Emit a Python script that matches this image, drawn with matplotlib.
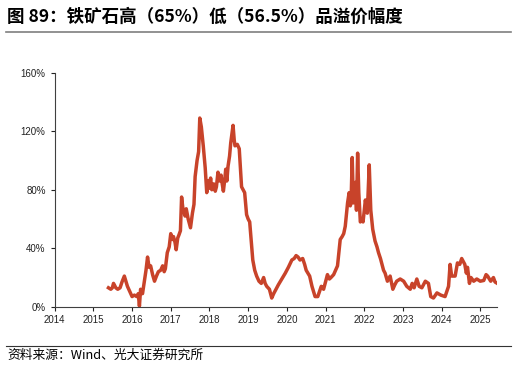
import matplotlib.pyplot as plt
from matplotlib.ticker import FuncFormatter

plt.rcParams["font.family"] = ["Liberation Sans", "Noto Sans CJK SC", "DejaVu Sans"]

LINE_RED = "#C8432A"
GREY = "#7F7F7F"

# premium of 65% vs 56.5% iron ore (decimal year, %)
years = [
    2015.39, 2015.45, 2015.49, 2015.52, 2015.58, 2015.63, 2015.69, 2015.74,
    2015.80, 2015.88, 2015.95, 2016.00, 2016.06, 2016.12, 2016.16, 2016.19,
    2016.22, 2016.27, 2016.31, 2016.36, 2016.40, 2016.44, 2016.48, 2016.53,
    2016.58, 2016.63, 2016.68, 2016.74, 2016.79, 2016.83, 2016.86, 2016.91,
    2016.96, 2017.00, 2017.04, 2017.07, 2017.11, 2017.14, 2017.18, 2017.21,
    2017.25, 2017.28, 2017.31, 2017.33, 2017.37, 2017.40, 2017.45, 2017.51,
    2017.56, 2017.60, 2017.63, 2017.68, 2017.72, 2017.75, 2017.79, 2017.84,
    2017.89, 2017.93, 2017.97, 2018.00, 2018.03, 2018.06, 2018.11, 2018.15,
    2018.18, 2018.22, 2018.26, 2018.30, 2018.33, 2018.36, 2018.40, 2018.42,
    2018.45, 2018.48, 2018.52, 2018.55, 2018.61, 2018.64, 2018.66, 2018.72,
    2018.77, 2018.80, 2018.83, 2018.87, 2018.91, 2018.96, 2019.00, 2019.04,
    2019.08, 2019.12, 2019.17, 2019.22, 2019.28, 2019.34, 2019.40, 2019.44,
    2019.48, 2019.55, 2019.61, 2019.66, 2019.70, 2019.78, 2019.87, 2019.96,
    2020.04, 2020.13, 2020.19, 2020.24, 2020.29, 2020.34, 2020.41, 2020.46,
    2020.50, 2020.59, 2020.65, 2020.73, 2020.80, 2020.85, 2020.89, 2020.95,
    2021.05, 2021.10, 2021.14, 2021.21, 2021.31, 2021.38, 2021.43, 2021.47,
    2021.51, 2021.57, 2021.61, 2021.64, 2021.66, 2021.69, 2021.72, 2021.77,
    2021.80, 2021.83, 2021.86, 2021.90, 2021.94, 2021.97, 2022.03, 2022.08,
    2022.13, 2022.17, 2022.22, 2022.28, 2022.33, 2022.37, 2022.42, 2022.46,
    2022.50, 2022.54, 2022.60, 2022.67, 2022.74, 2022.79, 2022.84, 2022.93,
    2023.02, 2023.10, 2023.19, 2023.24, 2023.29, 2023.36, 2023.42, 2023.49,
    2023.58, 2023.66, 2023.72, 2023.79, 2023.88, 2023.98, 2024.09, 2024.18,
    2024.22, 2024.26, 2024.35, 2024.41, 2024.47, 2024.52, 2024.56, 2024.60,
    2024.64, 2024.67, 2024.72, 2024.76, 2024.83, 2024.91, 2025.00, 2025.09,
    2025.15, 2025.19, 2025.27, 2025.34, 2025.38, 2025.44,
]
premium = [
    13, 12, 13, 16, 13, 12, 13, 17,
    21, 14, 10, 7, 8, 7, 9, 0.5,
    12, 9, 16, 25, 34, 27, 28, 22,
    17.5, 21, 24, 25, 28, 24, 26, 37,
    41, 50, 46, 48, 44, 39, 47, 49,
    52, 75, 68, 66, 62, 67, 60, 54,
    64, 70, 89, 100, 106, 129, 123, 110,
    95, 78, 86, 81, 88, 80, 84, 79,
    82, 92, 86, 90, 84, 79, 88, 94,
    86, 96, 103, 112, 124, 114, 110, 111,
    108, 95, 82, 80, 78, 63, 60, 58,
    45, 32, 25, 21, 17.5, 16, 20, 16,
    14, 12, 6, 9, 11, 15, 19, 23,
    27, 32, 33, 35, 34, 32, 33, 29,
    25, 21, 14, 7, 7, 11, 14, 12,
    22, 19, 20, 22, 28, 46, 48, 50,
    55, 71, 78, 69, 71, 102, 71, 85,
    66, 105, 78, 58, 60, 58, 73, 64,
    97, 66, 53, 45, 41, 37, 33, 29,
    25, 23, 17.5, 21, 12, 15, 17.5, 19,
    17.5, 14, 12, 16, 13, 19, 14, 13,
    17.5, 16, 7, 6, 9.5, 8, 7, 14,
    29, 21, 21, 30, 29, 33, 31, 29,
    23, 27, 16, 20, 17.5, 19, 17.5, 18,
    22, 21, 17.5, 20, 17, 16,
]
year_ticks = list(range(2014, 2026))
pct_ticks = [0, 40, 80, 120, 160]

fig = plt.figure(figsize=(5.16, 3.67), dpi=100)
ax = fig.add_axes([0.106, 0.164, 0.857, 0.638])

ax.plot(years, premium, color=LINE_RED, linewidth=2.5, solid_joinstyle="round")

ax.set_xlim(2014, 2025.43)
ax.set_ylim(0, 160)
ax.set_xticks(year_ticks)
ax.set_xticklabels([str(y) for y in year_ticks])
ax.set_yticks(pct_ticks)
ax.yaxis.set_major_formatter(FuncFormatter(lambda v, p: f"{v:.0f}%"))
ax.tick_params(axis="both", labelsize=7, colors="#222222", length=3, width=0.8)
ax.tick_params(axis="x", pad=3)

for side in ["top", "right"]:
    ax.spines[side].set_visible(False)
for side in ["left", "bottom"]:
    ax.spines[side].set_color("#404040")
    ax.spines[side].set_linewidth(0.8)

# title, rule lines and source
fig.text(0.014, 0.953, "图 89：铁矿石高（65%）低（56.5%）品溢价幅度",
         fontsize=12.6, fontweight="bold", family=["Noto Sans CJK SC", "DejaVu Sans"],
         va="center", ha="left")
fig.add_artist(plt.Line2D([0.012, 0.99], [0.913, 0.913], color=GREY, linewidth=1.2))
fig.add_artist(plt.Line2D([0.012, 0.99], [0.057, 0.057], color="#333333", linewidth=0.8))
fig.text(0.014, 0.032, "资料来源：Wind、光大证券研究所", fontsize=9.2,
         family=["Noto Sans CJK SC", "DejaVu Sans"], va="center", ha="left")

fig.savefig("out.png", dpi=100)
